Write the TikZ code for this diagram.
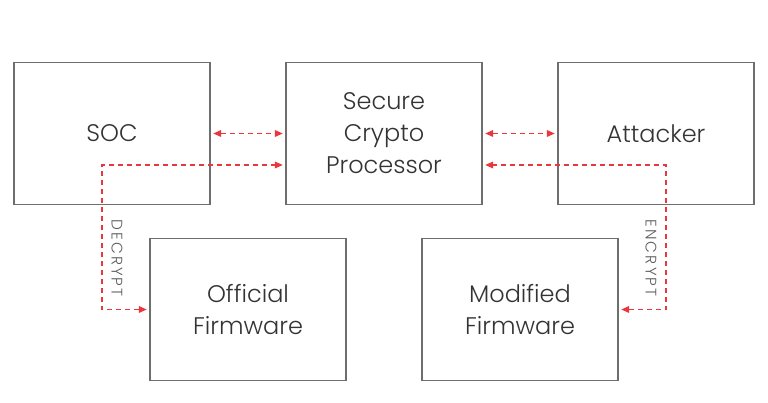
\documentclass[tikz,border=0pt]{standalone}
\usepackage{fontspec}
\setmainfont{Poppins}[UprightFont=* Light]
\usetikzlibrary{arrows.meta}
\definecolor{boxline}{HTML}{6E6E6E}
\definecolor{ink}{HTML}{333333}
\definecolor{linkred}{HTML}{E8383D}
\begin{document}
\begin{tikzpicture}[x=0.75pt, y=-0.75pt,
    block/.style={draw=boxline, line width=0.8pt, minimum width=147pt, minimum height=107pt,
      align=center, text=ink, font=\fontsize{18}{24}\selectfont, inner sep=0pt},
    link/.style={draw=linkred, line width=1.1pt, dash pattern=on 3.75pt off 3pt,
      {Triangle[length=6pt,width=5pt]}-{Triangle[length=6pt,width=5pt]}},
    tag/.style={text=ink!80, font=\fontsize{11.5}{13}\selectfont\addfontfeature{LetterSpace=14}, rotate=-90}]

    \useasboundingbox (0,0) rectangle (768,403);

    % Boxes
    \node[block] (soc)      at (112,133.5) {SOC};
    \node[block] (crypto)   at (384,133.5) {Secure\\Crypto\\Processor};
    \node[block] (attacker) at (656,133.5) {Attacker};
    \node[block] (official) at (248,309.5) {Official\\Firmware};
    \node[block] (modified) at (520,309.5) {Modified\\Firmware};

    % Corners
    \coordinate (dc) at (102,165);
    \coordinate (ec) at (666,165);

    % Links
    \draw[link] ([xshift=2pt]soc.east) -- ([xshift=-2pt]crypto.west);
    \draw[link] ([xshift=2pt]crypto.east) -- ([xshift=-2pt]attacker.west);
    \draw[link] ([xshift=-2pt]official.west) -| (dc) -- ([xshift=-2pt]crypto.west |- dc);
    \draw[link] ([xshift=2pt]modified.east) -| (ec) -- ([xshift=2pt]crypto.east |- ec);

    % Labels
    \node[tag] (dec) at (117,258) {DECRYPT};
    \node[tag] (enc) at (651,258) {ENCRYPT};

\end{tikzpicture}
\end{document}
